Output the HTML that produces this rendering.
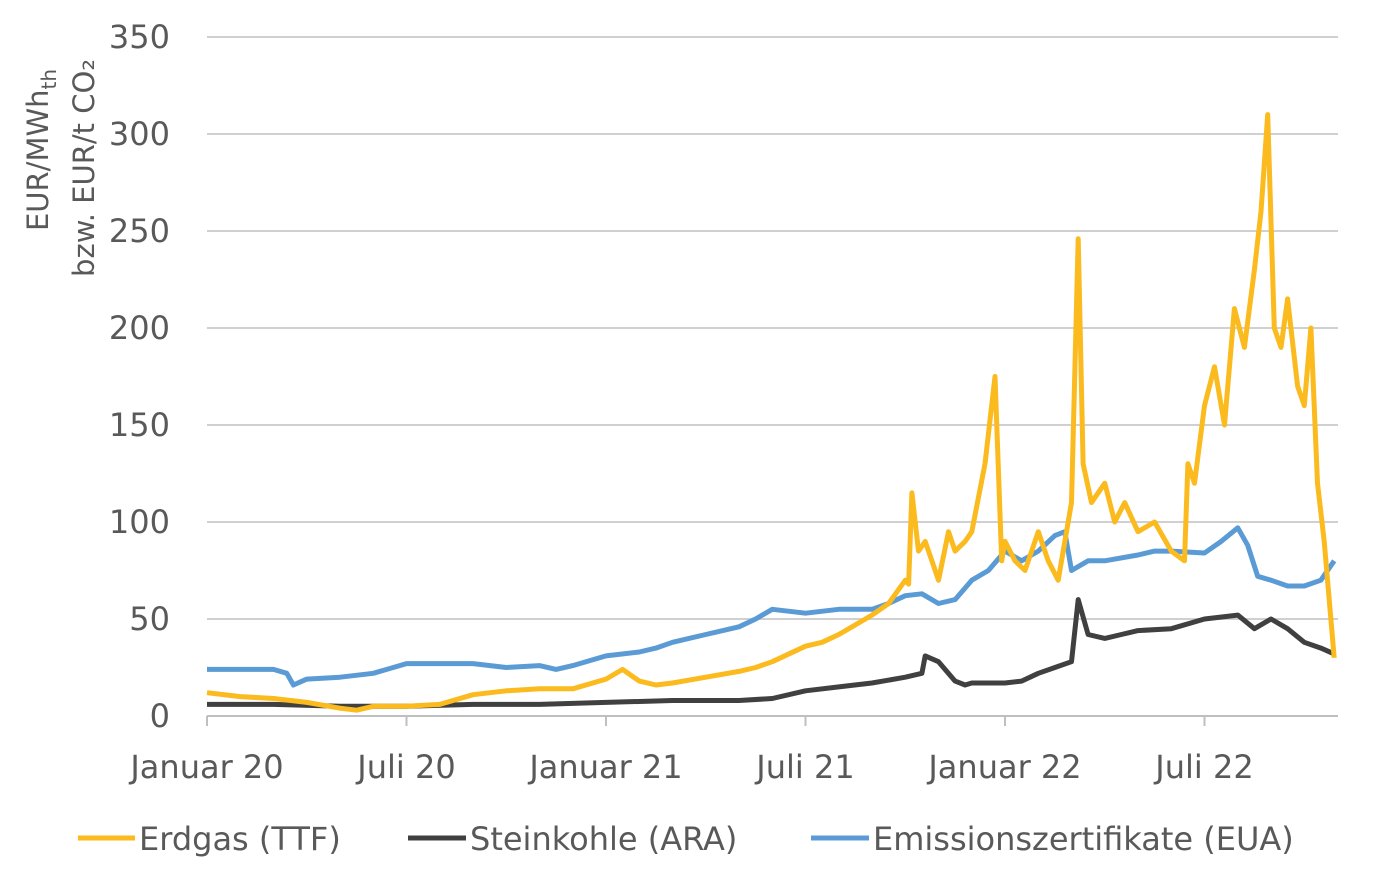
<!DOCTYPE html>
<html><head><meta charset="utf-8"><style>
body{margin:0;background:#fff;font-family:"DejaVu Sans",sans-serif}
svg text{font-family:"DejaVu Sans","Liberation Sans",sans-serif;fill:#595959}
</style></head><body>
<svg id="chart" width="1386" height="887" xmlns="http://www.w3.org/2000/svg">
<g id="grid"></g>
<g id="yticks"></g>
<g id="xticks"></g>
<g id="series"></g>
<g>
<text transform="translate(48,150) rotate(-90)" text-anchor="middle" font-size="29">EUR/MWh<tspan font-size="20" dy="8">th</tspan></text>
<text transform="translate(94,168) rotate(-90)" text-anchor="middle" font-size="29">bzw. EUR/t CO₂</text>
</g>
<g>
<g><line x1="78" y1="838" x2="135" y2="838" stroke="#FBBA1E" stroke-width="5"/><text x="139" y="850" font-size="32">Erdgas (TTF)</text></g>
<g><line x1="408" y1="838" x2="466" y2="838" stroke="#404040" stroke-width="5"/><text x="470" y="850" font-size="32">Steinkohle (ARA)</text></g>
<g><line x1="811" y1="838" x2="869" y2="838" stroke="#5B9BD5" stroke-width="5"/><text x="873" y="850" font-size="32">Emissionszertifikate (EUA)</text></g>
</g>
</svg>
<script>
const yTicks=[0,50,100,150,200,250,300,350];
const xLabels=["Januar 20","Juli 20","Januar 21","Juli 21","Januar 22","Juli 22"];
const xLabelMonths=[0,6,12,18,24,30];
const ttfMonths=[0,1,2,3,4,4.5,5,6,7,8,
9,10,11,12,12.5,13,13.5,14,15,16,
16.5,17,18,18.5,19,20,20.5,21,21.1,21.2,
21.4,21.6,21.8,22,22.3,22.5,22.8,23,23.4,23.7,
23.9,24,24.3,24.6,25,25.3,25.6,26,26.2,26.35,
26.6,27,27.3,27.6,28,28.5,29,29.4,29.5,29.7,
30,30.3,30.6,30.9,31.2,31.5,31.7,31.9,32.1,32.3,
32.5,32.8,33,33.2,33.4,33.6,33.75,33.9];
const ttfValues=[12,10,9,7,4,3,5,5,6,11,
13,14,14,19,24,18,16,17,20,23,
25,28,36,38,42,52,58,70,68,115,
85,90,80,70,95,85,90,95,130,175,
80,90,80,75,95,80,70,110,246,130,
110,120,100,110,95,100,85,80,130,120,
160,180,150,210,190,230,260,310,200,190,
215,170,160,200,120,90,60,30];
const euaMonths=[0,1,2,2.4,2.6,3,4,5,6,7,8,9,10,10.5,11,12,13,13.5,14,15,16,16.5,17,18,19,20,20.5,21,21.5,22,22.5,23,23.5,24,24.5,25,25.5,25.8,26,26.5,27,28,28.5,29,30,30.5,31,31.3,31.6,32,32.5,33,33.5,33.9];
const euaValues=[24,24,24,22,16,19,20,22,27,27,27,25,26,24,26,31,33,35,38,42,46,50,55,53,55,55,58,62,63,58,60,70,75,85,80,85,93,95,75,80,80,83,85,85,84,90,97,88,72,70,67,67,70,80];
const araMonths=[0,2,4,6,8,10,12,14,16,17,18,19,20,21,21.5,21.6,22,22.5,22.8,23,24,24.5,25,25.5,26,26.2,26.5,27,27.5,28,29,30,31,31.5,32,32.5,33,33.5,33.9];
const araValues=[6,6,5,5,6,6,7,8,8,9,13,15,17,20,22,31,28,18,16,17,17,18,22,25,28,60,42,40,42,44,45,50,52,45,50,45,38,35,32];
const X0=207,XPM=199.5/6,Y0=716,YP=97/50;
const x=m=>X0+m*XPM, y=v=>Y0-v*YP;
const NS="http://www.w3.org/2000/svg";
const grid=document.getElementById('grid'),yt=document.getElementById('yticks'),xt=document.getElementById('xticks'),ser=document.getElementById('series');
yTicks.forEach(v=>{
 const l=document.createElementNS(NS,'line');
 
 
 l.setAttribute('x1',X0);l.setAttribute('x2',1338);l.setAttribute('y1',y(v));l.setAttribute('y2',y(v));
 l.setAttribute('stroke',v===0?'#bfbfbf':'#d0d0d0');l.setAttribute('stroke-width',2);grid.appendChild(l);
 const t=document.createElementNS(NS,'text');
 
 
 t.setAttribute('x',170);t.setAttribute('y',y(v)+11);t.setAttribute('text-anchor','end');t.setAttribute('font-size','32');
 t.textContent=v;yt.appendChild(t);
});
xLabels.forEach((s,i)=>{
 const m=xLabelMonths[i];
 const l=document.createElementNS(NS,'line');
 
 
 l.setAttribute('x1',x(m));l.setAttribute('x2',x(m));l.setAttribute('y1',Y0);l.setAttribute('y2',Y0+10);
 l.setAttribute('stroke','#bfbfbf');l.setAttribute('stroke-width',2);xt.appendChild(l);
 const t=document.createElementNS(NS,'text');
 
 
 t.setAttribute('x',x(m));t.setAttribute('y',778);t.setAttribute('text-anchor','middle');t.setAttribute('font-size','32');
 t.textContent=s;xt.appendChild(t);
});
function line(ms,vs,color,name){
 const n=Math.min(ms.length,vs.length);
 const pts=[];
 for(let i=0;i<n;i++)pts.push(x(ms[i]).toFixed(1)+','+y(vs[i]).toFixed(1));
 const p=document.createElementNS(NS,'polyline');
 
 
 p.setAttribute('points',pts.join(' '));
 p.setAttribute('fill','none');p.setAttribute('stroke',color);p.setAttribute('stroke-width',5);p.setAttribute('stroke-linejoin','round');
 ser.appendChild(p);
}
line(araMonths,araValues,'#404040','line-ara');
line(euaMonths,euaValues,'#5B9BD5','line-eua');
line(ttfMonths,ttfValues,'#FBBA1E','line-ttf');
</script>
</body></html>
